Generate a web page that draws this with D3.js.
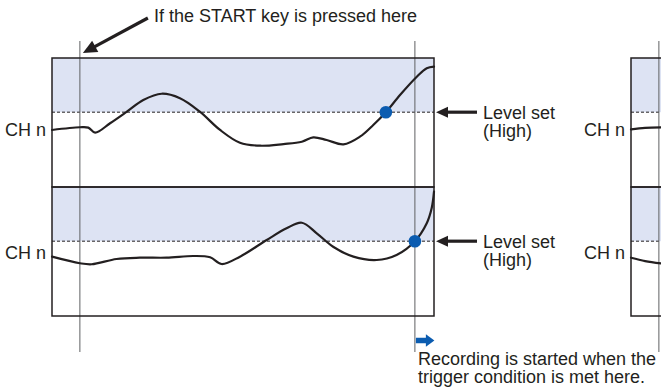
<!DOCTYPE html>
<html>
<head>
<meta charset="utf-8">
<script src="https://cdn.jsdelivr.net/npm/d3@7"></script>
<style>
  html, body { margin: 0; padding: 0; background: #ffffff; }
  svg { display: block; }
  text { font-family: "Liberation Sans", Arial, Helvetica, sans-serif; font-size: 18px; fill: #231f20; }
</style>
</head>
<body>
<svg id="chart" width="661" height="390"></svg>
<script>
// ---- data (time in % of panel width, level in % of panel height) ----
const topTimes    = [0, 7.3, 9.5, 11.3, 15.2, 19.6, 23.9, 28.7, 33.5, 38.7, 44.0, 49.2, 54.5, 60.6, 65.4, 68.4, 71.9, 76.3, 80.6, 84.1, 87.4, 91.1, 95.5, 98.1, 100];
const topValues   = [44.2, 46.3, 46.0, 42.1, 49.4, 58.4, 67.4, 72.3, 68.8, 58.4, 44.2, 34.3, 32.0, 33.3, 35.1, 38.5, 36.4, 33.1, 39.0, 48.1, 58.0, 71.3, 85.5, 92.0, 93.3];
const bottomTimes = [0, 7.3, 10.4, 16.9, 23.0, 30.0, 37.0, 41.4, 44.4, 49.2, 56.2, 61.4, 65.4, 69.3, 73.6, 78.9, 85.0, 90.2, 95.0, 98.1, 99.4, 100];
const bottomValues= [46.0, 40.9, 40.1, 44.2, 45.2, 45.2, 46.5, 45.5, 40.3, 46.0, 58.9, 68.0, 72.3, 64.1, 53.7, 46.0, 43.4, 47.3, 58.0, 71.9, 83.7, 96.4];
const rightTopTimes     = [0, 3.7, 7.9];
const rightTopValues    = [44.7, 45.9, 46.3];
const rightBottomTimes  = [0, 3.7, 7.9];
const rightBottomValues = [45.2, 42.6, 40.8];
const triggerLevel = 58;
const startTime = 7.3;
const triggerTime = 95.0;
const topCrossTime = 87.4;
const channelLabel = "CH n";
const startLabel = "If the START key is pressed here";
const levelLabels = ["Level set", "(High)"];
const recordLabels = ["Recording is started when the", "trigger condition is met here."];

// ---- layout ----
const svg = d3.select("#chart");
const ink = "#231f20";
const shade = "#dde3f3";
const blue = "#0b5cb0";
const grey = "#5f6062";

const x = d3.scaleLinear().domain([0, 100]).range([52, 434]);
const xR = d3.scaleLinear().domain([0, 100]).range([631, 1013]);
const yTop = d3.scaleLinear().domain([0, 100]).range([187, 58]);
const yBot = d3.scaleLinear().domain([0, 100]).range([316, 187]);

const panels = [
  { xs: x,  y: yTop, times: topTimes, values: topValues, dotT: topCrossTime },
  { xs: x,  y: yBot, times: bottomTimes, values: bottomValues, dotT: triggerTime },
  { xs: xR, y: yTop, times: rightTopTimes, values: rightTopValues, dotT: null },
  { xs: xR, y: yBot, times: rightBottomTimes, values: rightBottomValues, dotT: null }
];

// shaded region above level
panels.forEach(p => {
  svg.append("rect")
    .attr("x", p.xs(0)).attr("y", p.y(100))
    .attr("width", p.xs(100) - p.xs(0))
    .attr("height", p.y(triggerLevel) - p.y(100))
    .attr("fill", shade);
  svg.append("line")
    .attr("x1", p.xs(0)).attr("x2", p.xs(100))
    .attr("y1", p.y(triggerLevel)).attr("y2", p.y(triggerLevel))
    .attr("stroke", ink).attr("stroke-width", 1)
    .attr("stroke-dasharray", "3,2");
});

// vertical time markers
const vTop = yTop(100) - 17, vBot = yBot(0) + 36;
[x(startTime), x(triggerTime), xR(startTime)].forEach(px => {
  svg.append("line")
    .attr("x1", px).attr("x2", px).attr("y1", vTop).attr("y2", vBot)
    .attr("stroke", grey).attr("stroke-width", 1);
});

// panel frames
panels.forEach(p => {
  svg.append("rect")
    .attr("x", p.xs(0)).attr("y", p.y(100))
    .attr("width", p.xs(100) - p.xs(0))
    .attr("height", p.y(0) - p.y(100))
    .attr("fill", "none").attr("stroke", ink).attr("stroke-width", 1.5);
});

// signals
panels.forEach(p => {
  const pts = p.times.map((t, i) => [t, p.values[i]]);
  const line = d3.line().x(d => p.xs(d[0])).y(d => p.y(d[1])).curve(d3.curveCatmullRom.alpha(0.5));
  svg.append("path").attr("d", line(pts))
    .attr("fill", "none").attr("stroke", ink).attr("stroke-width", 2.2)
    .attr("stroke-linecap", "round").attr("stroke-linejoin", "round");
});

// trigger dots
panels.filter(p => p.dotT !== null).forEach(p => {
  svg.append("circle").attr("cx", p.xs(p.dotT)).attr("cy", p.y(triggerLevel))
    .attr("r", 6.3).attr("fill", blue);
});

// arrow helper
function arrow(x1, y1, x2, y2, color, w, headLen, headHalf) {
  const dx = x2 - x1, dy = y2 - y1, L = Math.hypot(dx, dy);
  const ux = dx / L, uy = dy / L;
  const bx = x2 - ux * headLen, by = y2 - uy * headLen;
  svg.append("line").attr("x1", x1).attr("y1", y1).attr("x2", bx + ux).attr("y2", by + uy)
    .attr("stroke", color).attr("stroke-width", w);
  svg.append("path")
    .attr("d", `M${x2},${y2}L${bx - uy * headHalf},${by + ux * headHalf}L${bx + uy * headHalf},${by - ux * headHalf}Z`)
    .attr("fill", color);
}

// START arrow
const sx = x(startTime) + 3, sy = yTop(100) - 5;
arrow(sx + 65, sy - 35, sx, sy, ink, 3.2, 14, 6.5);
svg.append("text").attr("x", 154).attr("y", 22).text(startLabel);

// level arrows and labels
[yTop, yBot].forEach(ys => {
  const ay = ys(triggerLevel);
  arrow(x(100) + 43, ay, x(100) + 2, ay, ink, 3.2, 12, 5.5);
  const t = svg.append("text").attr("x", x(100) + 49).attr("y", ay + 6.5);
  levelLabels.forEach((s, i) => {
    t.append("tspan").attr("x", x(100) + 49).attr("dy", i === 0 ? 0 : 18.5).text(s);
  });
});

// channel labels
[yTop, yBot].forEach((ys, i) => {
  const by = i === 0 ? 136 : 259;
  svg.append("text").attr("x", x(0) - 6).attr("y", by).attr("text-anchor", "end").text(channelLabel);
  svg.append("text").attr("x", xR(0) - 6).attr("y", by).attr("text-anchor", "end").text(channelLabel);
});

// recording arrow + labels
const rx = x(triggerTime) + 1, ry = 340.5;
arrow(rx, ry, rx + 18.5, ry, blue, 5.5, 8.5, 6.3);
const rt = svg.append("text").attr("x", 418).attr("y", 364.5);
recordLabels.forEach((s, i) => {
  rt.append("tspan").attr("x", 418).attr("dy", i === 0 ? 0 : 18.5).text(s);
});
</script>
</body>
</html>
